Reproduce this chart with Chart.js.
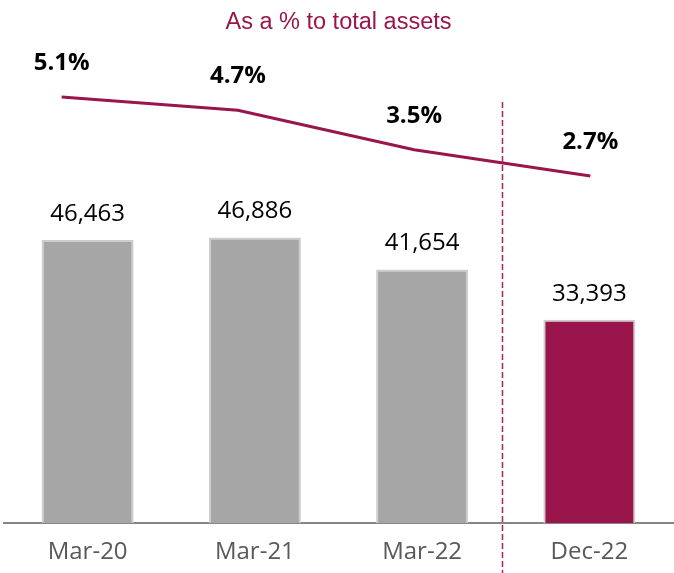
<!DOCTYPE html>
<html>
<head>
<meta charset="utf-8">
<script src="https://cdn.jsdelivr.net/npm/chart.js@4.4.1/dist/chart.umd.min.js"></script>
<style>
  html, body { margin: 0; padding: 0; background: #fff; }
  #wrap { width: 674px; height: 573px; position: relative; }
</style>
</head>
<body>
<div id="wrap"><canvas id="npaChart"></canvas></div>
<script>
// Chart data
const categories = ['Mar-20', 'Mar-21', 'Mar-22', 'Dec-22'];
const amounts = [46463, 46886, 41654, 33393];
const pctOfAssets = [5.1, 4.7, 3.5, 2.7];
const pctLabels = ['5.1%', '4.7%', '3.5%', '2.7%'];

const CRIMSON = '#99154B';
const GREY_BAR = '#A6A6A6';
const LABEL_FONT = '"Open Sans", Lato, sans-serif';

// Draws value labels on bars and line points, plus the dashed divider
const annotate = {
    id: 'annotate',
    afterDatasetsDraw(chart) {
        const ctx = chart.ctx;
        const barMeta = chart.getDatasetMeta(1);
        const lineMeta = chart.getDatasetMeta(0);

        ctx.save();
        ctx.textAlign = 'center';
        ctx.textBaseline = 'middle';

        // bar values
        ctx.fillStyle = '#000';
        ctx.font = '24px ' + LABEL_FONT;
        barMeta.data.forEach((bar, i) => {
            ctx.fillText(amounts[i].toLocaleString('en-US'), bar.x, bar.y - 26);
        });

        // percentage labels
        ctx.font = 'bold 24px ' + LABEL_FONT;
        lineMeta.data.forEach((pt, i) => {
            ctx.fillText(pctLabels[i], pt.x, pt.y - 34);
        });

        // dashed divider between Mar-22 and Dec-22
        const xs = chart.scales.x2;
        const ys = chart.scales.y2;
        const dx = Math.round(xs.getPixelForValue(2.5)) + 0.5;
        ctx.strokeStyle = '#A8245E';
        ctx.lineWidth = 1.5;
        ctx.setLineDash([6, 3]);
        ctx.beginPath();
        ctx.moveTo(dx, ys.getPixelForValue(4.95));
        ctx.lineTo(dx, chart.height);
        ctx.stroke();
        ctx.restore();
    }
};

new Chart(document.getElementById('npaChart'), {
    type: 'bar',
    data: {
        labels: categories,
        datasets: [
            {
                type: 'line',
                label: 'As a % to total assets',
                data: pctOfAssets.map((v, i) => ({ x: i, y: v })),
                xAxisID: 'x2',
                yAxisID: 'y2',
                borderColor: CRIMSON,
                borderWidth: 3,
                pointRadius: 0,
                tension: 0,
                fill: false
            },
            {
                type: 'bar',
                label: 'Amount',
                data: amounts,
                xAxisID: 'x',
                yAxisID: 'y',
                backgroundColor: [GREY_BAR, GREY_BAR, GREY_BAR, CRIMSON],
                borderColor: '#CDCDCD',
                borderWidth: 2,
                grouped: false,
                categoryPercentage: 1,
                barPercentage: 0.55
            }
        ]
    },
    options: {
        responsive: true,
        maintainAspectRatio: false,
        animation: false,
        layout: { padding: { left: 4, right: 1, top: 0, bottom: 0 } },
        plugins: {
            legend: { display: false },
            tooltip: { enabled: false },
            title: {
                display: true,
                text: 'As a % to total assets',
                color: CRIMSON,
                font: { family: '"Liberation Sans", Arial, sans-serif', size: 23.5, weight: 'normal' },
                padding: { top: 8, bottom: 4 }
            }
        },
        scales: {
            x: {
                type: 'category',
                grid: { display: false, drawTicks: false },
                border: { display: true, color: '#868686', width: 2 },
                ticks: {
                    color: '#595959',
                    font: { family: LABEL_FONT, size: 24 },
                    padding: 15
                },
                afterFit(scale) { scale.height = 50; }
            },
            y: {
                display: false,
                min: 0,
                max: 79300
            },
            x2: {
                type: 'linear',
                display: false,
                offset: false,
                min: -0.327,
                max: 3.469
            },
            y2: {
                type: 'linear',
                display: false,
                min: -7.85,
                max: 6.83
            }
        }
    },
    plugins: [annotate]
});
</script>
</body>
</html>
